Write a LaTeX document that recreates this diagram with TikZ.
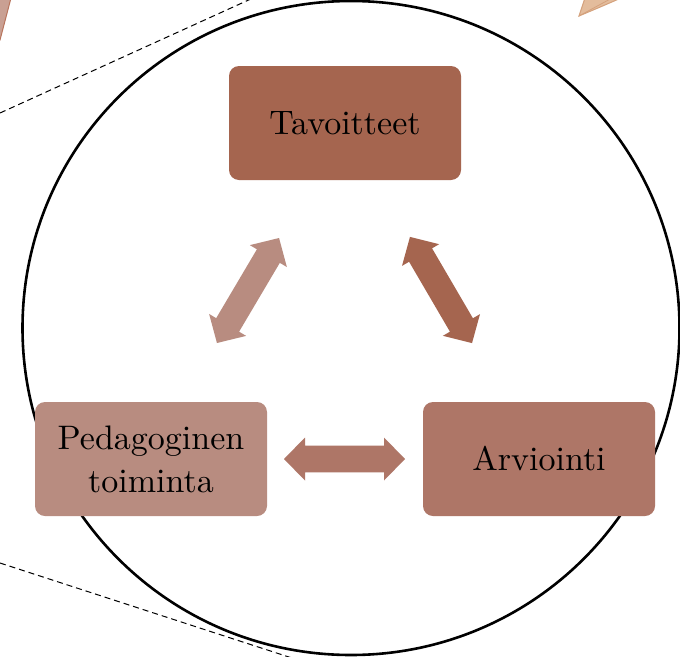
\documentclass[tikz,border=0pt]{standalone}
\usepackage{fontspec}
\setmainfont{lmroman10-regular}[Extension=.otf]
\usetikzlibrary{calc,shapes.geometric}
\definecolor{cTop}{RGB}{165,101,79}
\definecolor{cLeft}{RGB}{184,140,128}
\definecolor{cRight}{RGB}{174,118,103}
\definecolor{cCorner}{RGB}{201,160,147}
\definecolor{cCornerEdge}{RGB}{184,116,92}
\definecolor{cTan}{RGB}{227,188,156}
\definecolor{cTanEdge}{RGB}{212,161,124}
\tikzset{
  stagebox/.style={draw=none, rounded corners=10pt, minimum width=232pt, minimum height=114pt,
    align=center, font=\fontsize{34}{43}\selectfont, text=black, inner sep=0pt},
  dashline/.style={black, line width=1pt, dash pattern=on 6pt off 4pt},
}
\newcommand{\dblarr}[5]{%
  \begin{scope}[shift={(#1,#2)}, rotate=#3]
    \fill[#5] (-#4/2,0) -- (-#4/2+21,21.5) -- (-#4/2+21,13.3) -- (#4/2-21,13.3) -- (#4/2-21,21.5)
      -- (#4/2,0) -- (#4/2-21,-21.5) -- (#4/2-21,-13.3) -- (-#4/2+21,-13.3) -- (-#4/2+21,-21.5) -- cycle;
  \end{scope}}
\begin{document}
\begin{tikzpicture}[x=1pt,y=-1pt]
  \fill[white] (0,0) rectangle (680,656);
  \useasboundingbox (0,0) rectangle (680,656);
  % decorative corner shapes
  \filldraw[fill=cCorner, draw=cCornerEdge, line width=1pt] (-2,-2) -- (11,-2) -- (0,40) -- (-2,40) -- cycle;
  \filldraw[fill=cTan, draw=cTanEdge, line width=1pt] (579,16) -- (585,-2) -- (621,-2) .. controls (605,5) .. (579,16) -- cycle;
  \draw[cTanEdge, line width=0.8pt] (579,16) -- (612,-2);
  % dashed lines
  \coordinate (d1a) at (0,113);
  \coordinate (d1b) at (253,-2);
  \coordinate (d2a) at (0,563);
  \coordinate (d2b) at (292,658);
  \draw[dashline] (d1a) -- (d1b);
  \draw[dashline] (d2a) -- (d2b);
  % circle
  \node[draw=black, line width=2.6pt, ellipse, inner sep=0pt, minimum width=657pt, minimum height=654pt] (ring) at (351,328) {};
  % boxes
  \node[stagebox, fill=cTop] (tav) at (345,123) {Tavoitteet};
  \node[stagebox, fill=cLeft] (ped) at (151,459) {Pedagoginen\\toiminta};
  \node[stagebox, fill=cRight] (arv) at (539,459) {Arviointi};
  % arrows
  \dblarr{248}{290.5}{59.4}{122}{cLeft}
  \dblarr{441}{290}{-59.7}{123}{cTop}
  \dblarr{344.5}{459}{0}{121}{cRight}
\end{tikzpicture}
\end{document}
